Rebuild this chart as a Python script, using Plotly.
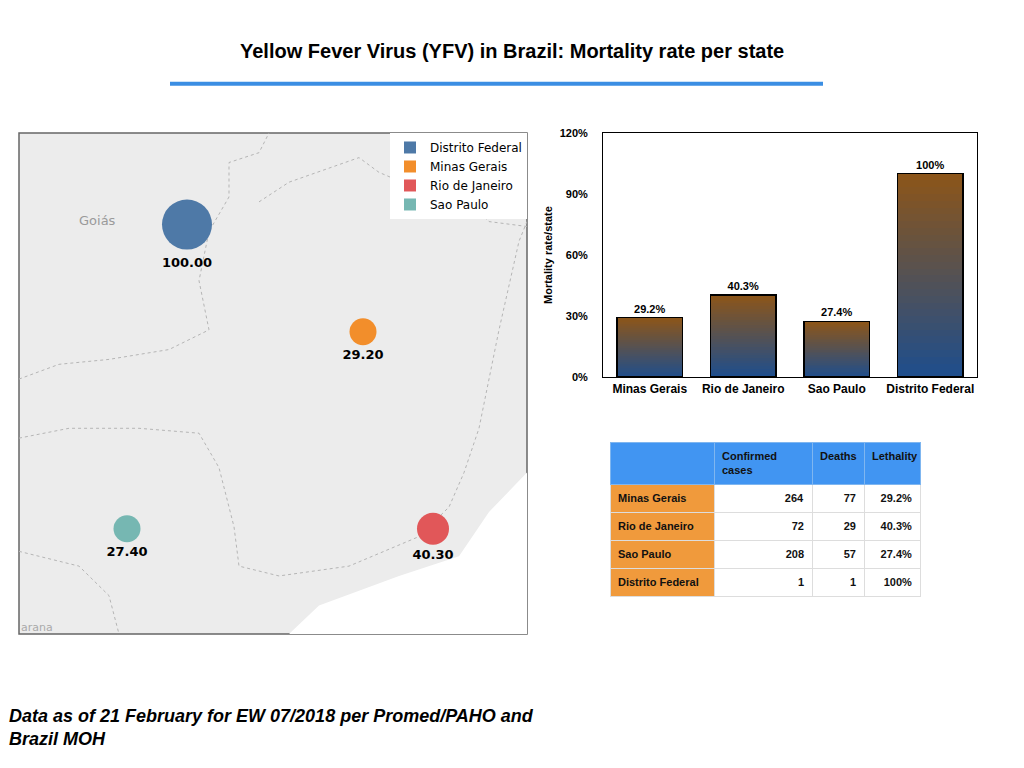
import plotly.graph_objects as go

states = ["Minas Gerais", "Rio de Janeiro", "Sao Paulo", "Distrito Federal"]
cases = [264, 72, 208, 1]
deaths = [77, 29, 57, 1]
lethality = [29.2, 40.3, 27.4, 100.0]
lethality_txt = ["29.2%", "40.3%", "27.4%", "100%"]
y_ticks = [0, 30, 60, 90, 120]
y_tick_labels = ["0%", "30%", "60%", "90%", "120%"]

map_states = ["Distrito Federal", "Minas Gerais", "Rio de Janeiro", "Sao Paulo"]
map_vals = [100.00, 29.20, 40.30, 27.40]
map_x = [168, 344, 414, 108]
map_y = [93, 202, 402, 402]
map_size = [50, 27, 32, 27]
map_colors = ["#4e79a7", "#f28e2b", "#e15759", "#76b7b2"]

W, H = 1024, 768
def px(x): return x / W
def py(y): return 1 - y / H

fig = go.Figure()

N = 30
def mix(t):
    a = (0x1f, 0x4e, 0x8c); b = (0x8b, 0x55, 0x1a)
    return "rgb(%d,%d,%d)" % tuple(round(a[k] + (b[k] - a[k]) * t) for k in range(3))
for i in range(N):
    fig.add_trace(go.Bar(x=states, y=[v / N for v in lethality], marker=dict(color=mix(i / (N - 1)), line=dict(width=0)),
                         width=0.7, xaxis="x", yaxis="y", showlegend=False, hoverinfo="skip"))
fig.add_trace(go.Bar(x=states, y=lethality, base=0, width=0.7, marker=dict(color="rgba(0,0,0,0)", line=dict(color="black", width=1.5)),
                     text=["<b>%s</b>" % t for t in lethality_txt], textposition="outside", textfont=dict(size=11, color="black"),
                     cliponaxis=False, xaxis="x2", yaxis="y2", showlegend=False))

fig.add_trace(go.Scatter(x=map_x, y=map_y, mode="markers+text", xaxis="x3", yaxis="y3",
                         marker=dict(size=map_size, color=map_colors, line=dict(width=0), opacity=1),
                         text=["<b>%.2f</b>" % v for v in map_vals], textposition="bottom center",
                         textfont=dict(size=13, color="black", family="DejaVu Sans"), showlegend=False, hoverinfo="skip"))
for n, c in zip(map_states, map_colors):
    fig.add_trace(go.Scatter(x=[None], y=[None], mode="markers", xaxis="x3", yaxis="y3", name=n,
                             marker=dict(symbol="square", size=16, color=c)))

fig.add_trace(go.Table(
    domain=dict(x=[px(610), px(920)], y=[py(620), py(443)]),
    columnwidth=[104, 98, 52, 56],
    header=dict(values=["", "<b>Confirmed<br>cases</b>", "<b>Deaths</b>", "<b>Lethality</b>"],
                fill_color="#4195f2", line_color="#7fb6f0", align="left", height=40,
                font=dict(size=11, color="#111", family="Liberation Sans")),
    cells=dict(values=[["<b>%s</b>" % s for s in states], ["<b>%d</b>" % c for c in cases],
                       ["<b>%d</b>" % d for d in deaths], ["<b>%s</b>" % t for t in lethality_txt]],
               fill_color=[["#f09a3c"] * 4, ["white"] * 4, ["white"] * 4, ["white"] * 4],
               line_color="#dddddd", align=["left", "right", "right", "right"], height=23,
               font=dict(size=11, color="#111", family="Liberation Sans"))))

bx = [px(603), px(977)]; by = [py(377), py(129)]
ax_common = dict(domain=bx, showgrid=False, zeroline=False)
fig.update_layout(
    width=W, height=H, margin=dict(l=0, r=0, t=0, b=0), paper_bgcolor="white", plot_bgcolor="white",
    barmode="stack", font=dict(family="Liberation Sans", color="black"),
    xaxis=dict(**ax_common, tickfont=dict(size=12), showline=True, linecolor="black", mirror=True, ticks="",
               tickvals=states, ticktext=["<b>%s</b>" % s for s in states]),
    yaxis=dict(domain=by, range=[0, 120], tickvals=y_ticks, ticktext=["<b>%s</b>" % t for t in y_tick_labels], showgrid=False,
               showline=True, linecolor="black", mirror=True, tickfont=dict(size=11), ticklabelstandoff=12,
               title=dict(text="<b>Mortality rate/state</b>", font=dict(size=11), standoff=4), zeroline=False),
    xaxis2=dict(**ax_common, overlaying="x", visible=False, matches="x"),
    yaxis2=dict(domain=by, range=[0, 120], overlaying="y", visible=False),
    xaxis3=dict(domain=[px(19), px(527)], range=[0, 508], visible=False),
    yaxis3=dict(domain=[py(638), py(129)], range=[509, 0], visible=False),
    legend=dict(x=px(527), y=py(129), xanchor="right", yanchor="top", bgcolor="white", traceorder="normal",
                font=dict(size=12, family="DejaVu Sans"), itemsizing="constant", tracegroupgap=0),
)

shapes = [
    dict(type="rect", xref="paper", yref="paper", x0=px(19), x1=px(527), y0=py(638), y1=py(129),
         fillcolor="#ececec", line=dict(color="#666", width=1.5), layer="below"),
    dict(type="path", xref="x3", yref="y3", path="M 508 345 L 470 385 L 440 430 L 380 450 L 300 480 L 270 509 L 508 509 Z",
         fillcolor="white", line=dict(width=0), layer="below"),
    dict(type="line", xref="paper", yref="paper", x0=px(170), x1=px(823), y0=py(79), y1=py(79),
         line=dict(color="#3b8ee3", width=4)),
]
for path in ["M 0 250 L 40 235 L 90 230 L 150 220 L 190 200 L 180 150 L 190 100 L 210 65 L 210 30 L 240 20 L 250 0",
             "M 0 310 L 50 300 L 120 300 L 180 305 L 200 340 L 215 400 L 220 440 L 260 450 L 330 440 L 400 410 L 430 380 L 445 345 L 460 300 L 480 200 L 500 110 L 508 90",
             "M 240 70 L 270 50 L 340 25 L 360 40 L 395 55 L 430 50 L 470 90 L 508 95",
             "M 0 425 L 60 440 L 90 470 L 100 509"]:
    shapes.append(dict(type="path", xref="x3", yref="y3", path=path, line=dict(color="#b5b5b5", width=1, dash="dot"), layer="below"))
fig.update_layout(shapes=shapes)

ann = [
    dict(text="<b>Yellow Fever Virus (YFV) in Brazil: Mortality rate per state</b>", x=0.5, y=py(46), yanchor="middle",
         xref="paper", yref="paper", showarrow=False, font=dict(size=20, family="Liberation Sans")),
    dict(text="<b><i>Data as of 21 February for EW 07/2018 per Promed/PAHO and<br>Brazil MOH</i></b>", x=px(7), y=py(733), yanchor="middle",
         xref="paper", yref="paper", xanchor="left", align="left", showarrow=False, font=dict(size=18, family="Liberation Sans")),
    dict(text="Goiás", x=78, y=89, xref="x3", yref="y3", showarrow=False, font=dict(size=13, color="#9a9a9a", family="DejaVu Sans")),
    dict(text="arana", x=0, y=502, xref="x3", yref="y3", xanchor="left", showarrow=False, font=dict(size=11, color="#aaa", family="DejaVu Sans")),
]
fig.update_layout(annotations=ann)
fig.write_html("out.html", config={"displayModeBar": False},
               post_script="document.body.style.margin='0';document.body.style.overflow='hidden';")
